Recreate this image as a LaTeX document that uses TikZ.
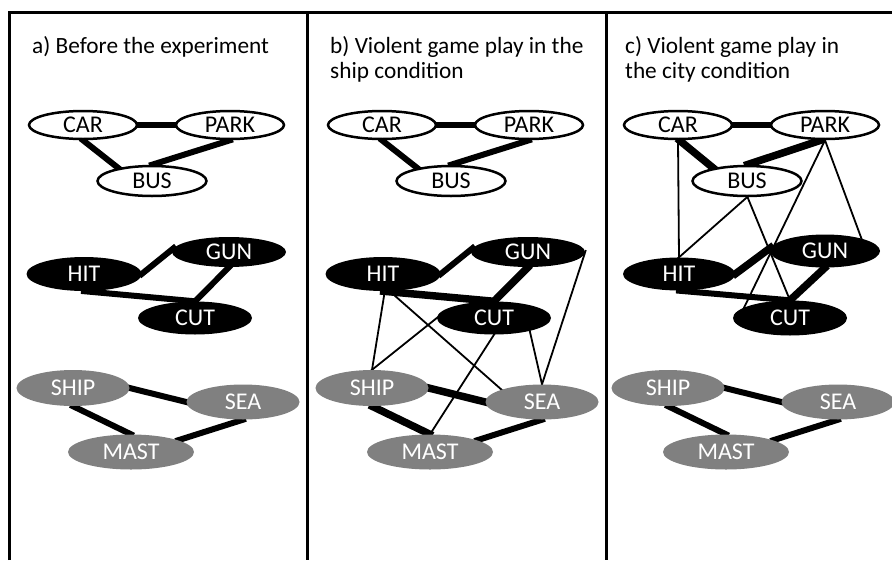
\documentclass[tikz,border=0pt]{standalone}
\usepackage{fontspec}
\setmainfont{Carlito}
\usetikzlibrary{shapes.geometric}
\pgfdeclarelayer{bg}
\pgfsetlayers{bg,main}
\definecolor{ngray}{RGB}{128,128,128}
\begin{document}
\begin{tikzpicture}[x=1pt,y=-1pt,
  lbl/.style={font=\fontsize{24}{28}\selectfont, inner sep=0pt, ellipse},
  wnode/.style={lbl, draw=black, line width=2.5pt, fill=white},
  bnode/.style={lbl, fill=black, text=white},
  gnode/.style={lbl, fill=ngray, text=white},
  thk/.style={line width=6pt, shorten <=-3pt, shorten >=-3pt},
  thkr/.style={line width=7.5pt, shorten <=-3pt, shorten >=-3pt},
  thn/.style={line width=1.8pt, shorten <=-2pt, shorten >=-2pt},
  frame/.style={line width=3pt},
  ttl/.style={anchor=base west, inner sep=0pt, font=\fontsize{23.3}{25}\selectfont}
]
\useasboundingbox (0,0) rectangle (892,560);
% frame
\draw[frame] (9,560) -- (9,12) -- (893,12);
\draw[frame] (307,12) -- (307,560);
\draw[frame] (606,12) -- (606,560);

% titles
\node[ttl] (ta) at (32,53) {a) Before the experiment};
\node[ttl] (tb) at (330,53) {\parbox[t]{270pt}{b) Violent game play in the\\ship condition}};
\node[ttl] (tc) at (625,53) {\parbox[t]{260pt}{c) Violent game play in\\the city condition}};

% ---------- panel a ----------
\node[wnode, minimum width=108, minimum height=28] (acar) at (83,125) {CAR};
\node[wnode, minimum width=108, minimum height=28] (apark) at (230,125) {PARK};
\node[wnode, minimum width=109, minimum height=30] (abus) at (152,181) {BUS};
\node[bnode, minimum width=114, minimum height=30] (agun) at (229,252) {GUN};
\node[bnode, minimum width=115, minimum height=34] (ahit) at (84,274) {HIT};
\node[bnode, minimum width=114, minimum height=33] (acut) at (195,318) {CUT};
\node[gnode, minimum width=113, minimum height=36] (aship) at (73,388) {SHIP};
\node[gnode, minimum width=113, minimum height=35] (asea) at (243,402) {SEA};
\node[gnode, minimum width=126, minimum height=35] (amast) at (131,452) {MAST};

% ---------- panel b ----------
\node[wnode, minimum width=108, minimum height=28] (bcar) at (382,125) {CAR};
\node[wnode, minimum width=108, minimum height=28] (bpark) at (529,125) {PARK};
\node[wnode, minimum width=109, minimum height=30] (bbus) at (451,181) {BUS};
\node[bnode, minimum width=114, minimum height=30] (bgun) at (528,252) {GUN};
\node[bnode, minimum width=115, minimum height=34] (bhit) at (383,274) {HIT};
\node[bnode, minimum width=114, minimum height=33] (bcut) at (494,318) {CUT};
\node[gnode, minimum width=113, minimum height=36] (bship) at (372,388) {SHIP};
\node[gnode, minimum width=113, minimum height=35] (bsea) at (542,402) {SEA};
\node[gnode, minimum width=126, minimum height=35] (bmast) at (430,452) {MAST};

% ---------- panel c ----------
\node[wnode, minimum width=108, minimum height=28] (ccar) at (678,125) {CAR};
\node[wnode, minimum width=108, minimum height=28] (cpark) at (825,125) {PARK};
\node[wnode, minimum width=109, minimum height=30] (cbus) at (747,181) {BUS};
\node[bnode, minimum width=110, minimum height=33] (cgun) at (825,251) {GUN};
\node[bnode, minimum width=112, minimum height=33] (chit) at (679,274) {HIT};
\node[bnode, minimum width=114, minimum height=35] (ccut) at (790,318) {CUT};
\node[gnode, minimum width=113, minimum height=36] (cship) at (668,388) {SHIP};
\node[gnode, minimum width=113, minimum height=35] (csea) at (838,402) {SEA};
\node[gnode, minimum width=126, minimum height=35] (cmast) at (726,452) {MAST};

\begin{pgfonlayer}{bg}
% panel a
\draw[thk] (acar.east) -- (apark.west);
\draw[thk] (acar.south) -- (abus.159);
\draw[thk] (abus.north) -- (apark.south);
\draw[thk] (ahit.east) -- (agun.176);
\draw[thk] (ahit.south) -- (acut.north);
\draw[thk] (agun.south) -- (acut.north);
\draw[thk] (aship.east) -- (asea.west);
\draw[thk] (aship.south) -- (amast.north);
\draw[thk] (amast.14) -- (asea.south);
% panel b
\draw[thk] (bcar.east) -- (bpark.west);
\draw[thk] (bcar.south) -- (bbus.159);
\draw[thk] (bbus.north) -- (bpark.south);
\draw[thk] (bhit.east) -- (bgun.176);
\draw[thkr] (bhit.south) -- (bcut.north);
\draw[thkr] (bgun.south) -- (bcut.north);
\draw[thkr] (bship.east) -- (bsea.west);
\draw[thkr] (bship.south) -- (bmast.north);
\draw[thk] (bmast.14) -- (bsea.south);
\draw[thn] (bhit.-84) -- (bship.north);
\draw[thn] (bhit.-69) -- (bsea.163);
\draw[thn] (bcut.west) -- (bship.north);
\draw[thn] (bcut.south) -- (bmast.north);
\draw[thn] (bcut.-20) -- (bsea.north);
\draw[thn] (bgun.east) -- (bsea.north);
% panel c
\draw[thk] (ccar.east) -- (cpark.west);
\draw[thkr] (ccar.-85) -- (cbus.159);
\draw[thkr] (cbus.north) -- (cpark.-105);
\draw[thkr] (chit.east) -- (cgun.176);
\draw[thk] (chit.south) -- (ccut.north);
\draw[thkr] (cgun.south) -- (ccut.north);
\draw[thk] (cship.east) -- (csea.west);
\draw[thk] (cship.south) -- (cmast.north);
\draw[thk] (cmast.14) -- (csea.south);
\draw[thn] (ccar.south) -- (chit.north);
\draw[thn] (cbus.south) -- (chit.north);
\draw[thn] (cbus.-88) -- (ccut.north);
\draw[thn] (cpark.south) -- (ccut.167);
\draw[thn] (cpark.south) -- (cgun.19);
\end{pgfonlayer}
\end{tikzpicture}
\end{document}
